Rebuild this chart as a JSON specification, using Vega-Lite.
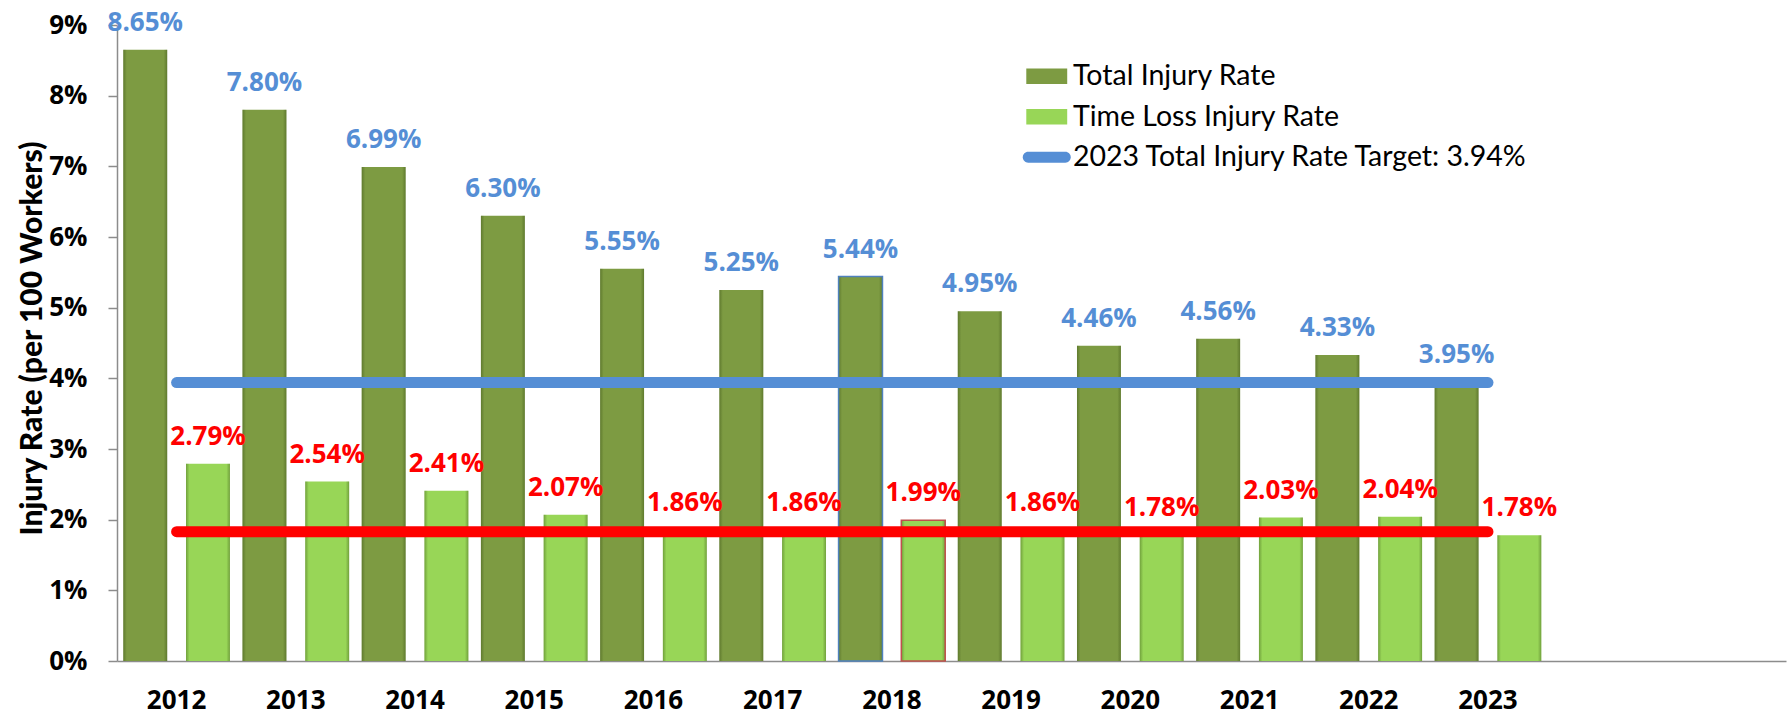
{
  "$schema": "https://vega.github.io/schema/vega-lite/v6.json",
  "autosize": {"type": "none"},
  "padding": {"left": 117, "top": 25, "right": 6, "bottom": 54},
  "width": 1669,
  "height": 636,
  "background": "white",
  "config": {"view": {"stroke": null}},
  "datasets": {
    "bars": [
      {"year": "2012", "series": "Total Injury Rate", "value": 0.0865},
      {"year": "2013", "series": "Total Injury Rate", "value": 0.0780},
      {"year": "2014", "series": "Total Injury Rate", "value": 0.0699},
      {"year": "2015", "series": "Total Injury Rate", "value": 0.0630},
      {"year": "2016", "series": "Total Injury Rate", "value": 0.0555},
      {"year": "2017", "series": "Total Injury Rate", "value": 0.0525},
      {"year": "2018", "series": "Total Injury Rate", "value": 0.0544},
      {"year": "2019", "series": "Total Injury Rate", "value": 0.0495},
      {"year": "2020", "series": "Total Injury Rate", "value": 0.0446},
      {"year": "2021", "series": "Total Injury Rate", "value": 0.0456},
      {"year": "2022", "series": "Total Injury Rate", "value": 0.0433},
      {"year": "2023", "series": "Total Injury Rate", "value": 0.0395},
      {"year": "2012", "series": "Time Loss Injury Rate", "value": 0.0279},
      {"year": "2013", "series": "Time Loss Injury Rate", "value": 0.0254},
      {"year": "2014", "series": "Time Loss Injury Rate", "value": 0.0241},
      {"year": "2015", "series": "Time Loss Injury Rate", "value": 0.0207},
      {"year": "2016", "series": "Time Loss Injury Rate", "value": 0.0186},
      {"year": "2017", "series": "Time Loss Injury Rate", "value": 0.0186},
      {"year": "2018", "series": "Time Loss Injury Rate", "value": 0.0199},
      {"year": "2019", "series": "Time Loss Injury Rate", "value": 0.0186},
      {"year": "2020", "series": "Time Loss Injury Rate", "value": 0.0178},
      {"year": "2021", "series": "Time Loss Injury Rate", "value": 0.0203},
      {"year": "2022", "series": "Time Loss Injury Rate", "value": 0.0204},
      {"year": "2023", "series": "Time Loss Injury Rate", "value": 0.0178}
    ],
    "target": [
      {"year": "2012", "series": "2023 Total Injury Rate Target: 3.94%", "value": 0.0394},
      {"year": "2023", "series": "2023 Total Injury Rate Target: 3.94%", "value": 0.0394}
    ],
    "redline": [
      {"year": "2012", "series": "Time Loss Level", "value": 0.0183},
      {"year": "2023", "series": "Time Loss Level", "value": 0.0183}
    ]
  },
  "encoding": {
    "x": {
      "field": "year", "type": "nominal",
      "scale": {"domain": ["2012","2013","2014","2015","2016","2017","2018","2019","2020","2021","2022","2023","2024","2025"], "paddingInner": 0, "paddingOuter": 0},
      "axis": {
        "title": null, "labelAngle": 0, "ticks": false, "labelPadding": 26,
        "labelFont": "Open Sans", "labelFontWeight": "bold", "labelFontSize": 26, "labelColor": "#000000",
        "labelExpr": "toNumber(datum.value) > 2023 ? '' : datum.label",
        "domainColor": "#8C8C8C", "domainWidth": 1.5, "grid": false
      }
    },
    "y": {
      "field": "value", "type": "quantitative",
      "scale": {"domain": [0, 0.09], "nice": false, "zero": true},
      "axis": {
        "title": "Injury Rate (per 100 Workers)",
        "values": [0, 0.01, 0.02, 0.03, 0.04, 0.05, 0.06, 0.07, 0.08, 0.09],
        "format": ".0%", "grid": false,
        "tickSize": 9, "tickColor": "#8C8C8C", "tickWidth": 1.5,
        "domainColor": "#8C8C8C", "domainWidth": 1.5,
        "labelPadding": 21, "labelFont": "Open Sans", "labelFontWeight": "bold", "labelFontSize": 26, "labelColor": "#000000",
        "titleFont": "Lato", "titleFontWeight": 900, "titleFontSize": 30, "titleColor": "#000000",
        "titleAngle": -90, "titleX": -76, "titleY": 313, "titleAlign": "center", "titleBaseline": "alphabetic"
      }
    }
  },
  "layer": [
    {
      "data": {"name": "bars"},
      "mark": {"type": "bar", "strokeWidth": 0},
      "encoding": {
        "xOffset": {"field": "series", "type": "nominal", "scale": {"domain": ["Total Injury Rate", "Time Loss Injury Rate"], "paddingInner": 0.3, "paddingOuter": 0.1}},
        "color": {
          "field": "series", "type": "nominal",
          "scale": {"domain": ["Total Injury Rate", "Time Loss Injury Rate", "2023 Total Injury Rate Target: 3.94%"], "range": ["#7D9B42", "#98D657", "#558ED5"]},
          "legend": {
            "orient": "none", "legendX": 915.5, "legendY": 37, "title": null, "padding": 0,
            "symbolSize": 484, "labelOffset": 12, "rowPadding": 11.5, "labelLimit": 800,
            "labelFont": "Lato", "labelFontSize": 28.5, "labelColor": "#000000",
            "encode": {
              "symbols": {
                "update": {
                  "shape": {"signal": "datum.value === '2023 Total Injury Rate Target: 3.94%' ? 'M-1.69,-0.49H1.69A0.49,0.49 0 0 1 1.69,0.49H-1.69A0.49,0.49 0 0 1 -1.69,-0.49Z' : 'M-1.86,-0.7H1.86V0.7H-1.86Z'"},
                  "fill": {"signal": "scale('color', datum.value)"},
                  "stroke": {"value": "transparent"},
                  "strokeWidth": {"value": 0},
                  "opacity": {"value": 1},
                  "fillOpacity": {"value": 1}
                }
              }
            }
          }
        }
      }
    },
    {
      "data": {"name": "bars"},
      "mark": {
        "type": "bar", "strokeWidth": 1.5,
        "fill": {"gradient": "linear", "x1": 0, "x2": 1, "y1": 0, "y2": 0, "stops": [
          {"offset": 0, "color": "rgba(40,60,10,0.35)"},
          {"offset": 0.08, "color": "rgba(40,60,10,0.0)"},
          {"offset": 0.92, "color": "rgba(40,60,10,0.0)"},
          {"offset": 1, "color": "rgba(40,60,10,0.35)"}
        ]}
      },
      "encoding": {
        "xOffset": {"field": "series", "type": "nominal"},
        "stroke": {
          "condition": [
            {"test": "datum.year === '2018' && datum.series === 'Total Injury Rate'", "value": "#4F81BD"},
            {"test": "datum.year === '2018' && datum.series === 'Time Loss Injury Rate'", "value": "#C0504D"}
          ],
          "value": "transparent"
        }
      }
    },
    {
      "data": {"name": "target"},
      "mark": {"type": "line", "strokeWidth": 11, "strokeCap": "round"},
      "encoding": {
        "color": {"field": "series", "type": "nominal"}
      }
    },
    {
      "data": {"name": "redline"},
      "mark": {"type": "line", "strokeWidth": 11, "strokeCap": "round", "color": "#FF0000"},
      "encoding": {}
    },
    {
      "data": {"name": "bars"},
      "mark": {"type": "text", "font": "Open Sans", "fontWeight": "bold", "fontSize": 26, "baseline": "middle", "align": "center", "dy": -27},
      "encoding": {
        "xOffset": {"field": "series", "type": "nominal"},
        "text": {"field": "value", "type": "quantitative", "format": ".2%"},
        "color": {"condition": {"test": "datum.series === 'Total Injury Rate'", "value": "#558ED5"}, "value": "#FF0000"}
      }
    }
  ]
}
